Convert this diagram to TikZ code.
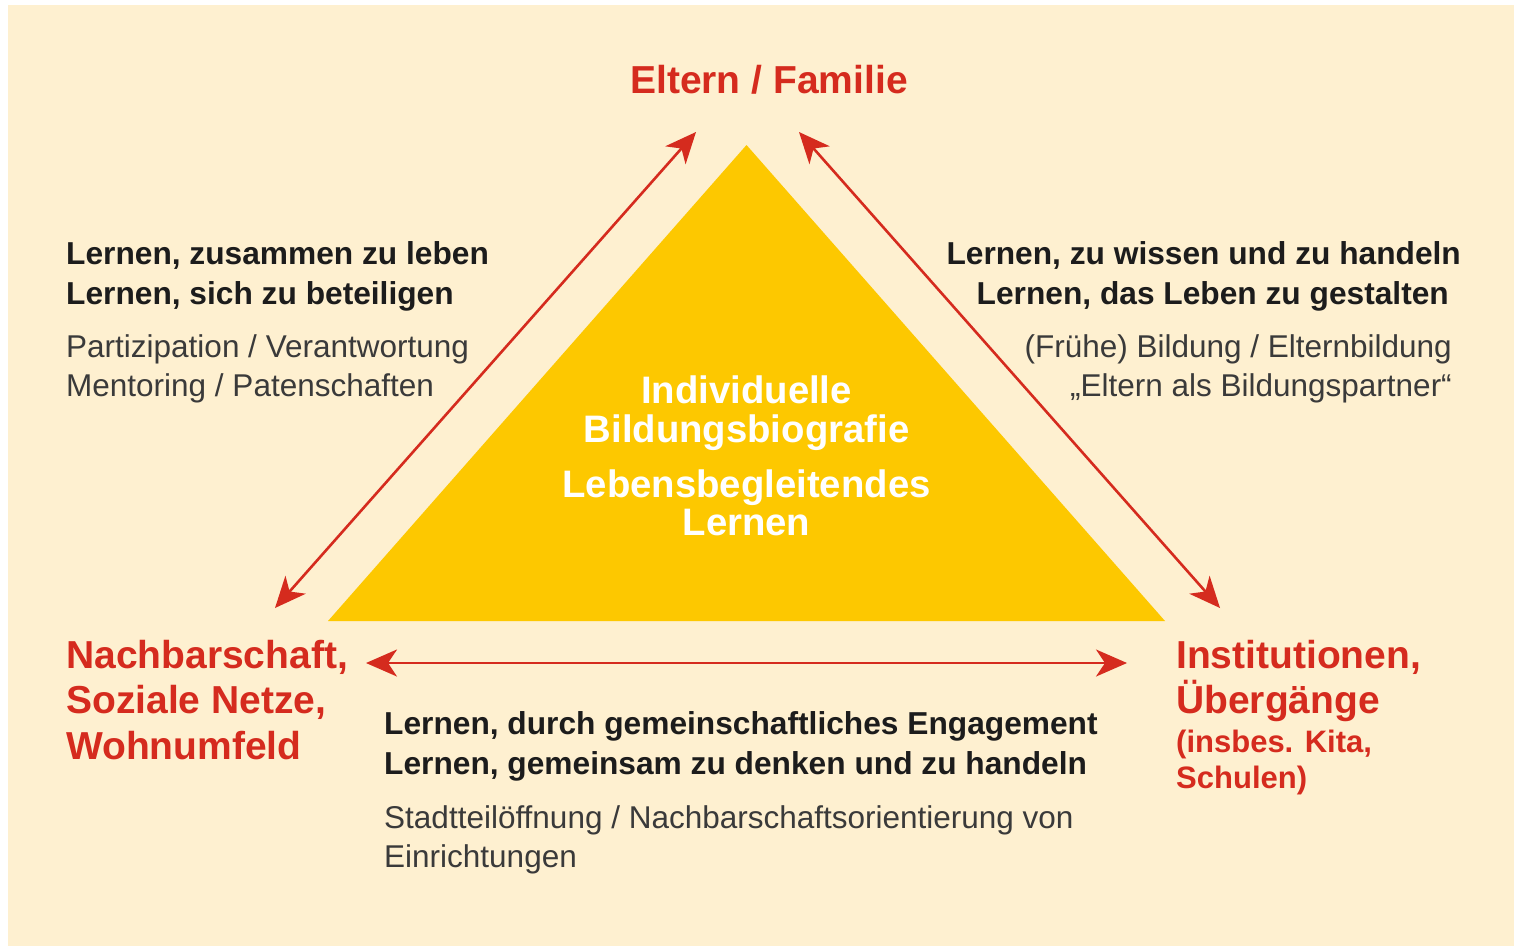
\documentclass[tikz,border=0pt]{standalone}
\usepackage{fontspec}
\setmainfont{Liberation Sans}
\usetikzlibrary{arrows.meta}
\definecolor{creme}{HTML}{FEF0D0}
\definecolor{gelb}{HTML}{FDC800}
\definecolor{rot}{HTML}{D52B1E}
\definecolor{schwarz}{HTML}{1C1C1C}
\definecolor{grau}{HTML}{3A3A3A}
\tikzset{
    x=1pt, y=-1pt, % pixel coordinates, origin at the top left
    >={Stealth[length=31pt, width=27pt, inset=9pt]}, % big notched heads
    pfeil/.style={<->, draw=rot, line width=2.6pt}, % red double arrows
    titel/.style={inner sep=0pt, text=rot, font=\fontsize{39}{45}\selectfont\bfseries},
    klein/.style={inner sep=0pt, text=rot, font=\fontsize{31}{36}\selectfont\bfseries},
    fett/.style={inner sep=0pt, text=schwarz, font=\fontsize{31.7}{38}\selectfont\bfseries},
    normal/.style={inner sep=0pt, text=grau, font=\fontsize{31.5}{38}\selectfont},
    mitte/.style={inner sep=0pt, text=white, font=\fontsize{38.3}{39}\selectfont\bfseries},
}
\begin{document}
\begin{tikzpicture}
    \useasboundingbox (0,0) rectangle (1514,946);
    \fill[white] (0,0) rectangle (1514,946);
    \fill[creme] (8,5) rectangle (1514,946);
    % triangle in the middle
    \fill[gelb] (328,621) -- (746.5,145) -- (1165,621) -- cycle;
    \node[mitte, anchor=base] (ind) at (746.5,403) {Individuelle};
    \node[mitte, anchor=base] (bio) at (746.5,442) {Bildungsbiografie};
    \node[mitte, anchor=base] (leb) at (746.5,497) {Lebensbegleitendes};
    \node[mitte, anchor=base] (lern) at (746.5,535) {Lernen};
    % the three corners
    \node[titel, anchor=base] (eltern) at (769,93) {Eltern / Familie};
    \node[titel, anchor=base west] (nach1) at (66,668) {Nachbarschaft,};
    \node[titel, anchor=base west] (nach2) at (66,713) {Soziale Netze,};
    \node[titel, anchor=base west] (nach3) at (66,759) {Wohnumfeld};
    \node[titel, anchor=base west] (inst1) at (1176,668) {Institutionen,};
    \node[titel, anchor=base west] (inst2) at (1176,713) {Übergänge};
    \node[klein, anchor=base west] (inst3) at (1176,752) {(insbes. Kita,};
    \node[klein, anchor=base west] (inst4) at (1176,788) {Schulen)};
    % left side
    \node[fett, anchor=base west] (links1) at (66,264) {Lernen, zusammen zu leben};
    \node[fett, anchor=base west] (links2) at (66,304) {Lernen, sich zu beteiligen};
    \node[normal, anchor=base west] (links3) at (66,357) {Partizipation / Verantwortung};
    \node[normal, anchor=base west] (links4) at (66,396) {Mentoring / Patenschaften};
    % right side
    \node[fett, anchor=base east] (rechts1) at (1461,264) {Lernen, zu wissen und zu handeln};
    \node[fett, anchor=base east] (rechts2) at (1449,304) {Lernen, das Leben zu gestalten};
    \node[normal, anchor=base east] (rechts3) at (1452,357) {(Frühe) Bildung / Elternbildung};
    \node[normal, anchor=base east] (rechts4) at (1452,396) {„Eltern als Bildungspartner“};
    % bottom
    \node[fett, anchor=base west] (unten1) at (384,734) {Lernen, durch gemeinschaftliches Engagement};
    \node[fett, anchor=base west] (unten2) at (384,774) {Lernen, gemeinsam zu denken und zu handeln};
    \node[normal, anchor=base west] (unten3) at (384,828) {Stadtteilöffnung / Nachbarschaftsorientierung von};
    \node[normal, anchor=base west] (unten4) at (384,867) {Einrichtungen};
    % arrow ends
    \coordinate (lo) at (696,132);
    \coordinate (lu) at (275,608);
    \coordinate (ro) at (799,132);
    \coordinate (ru) at (1220,608);
    \coordinate (ul) at (366,663);
    \coordinate (ur) at (1127,663);
    \draw[pfeil] (lo) -- (lu);
    \draw[pfeil] (ro) -- (ru);
    \draw[pfeil] (ul) -- (ur);
\end{tikzpicture}
\end{document}
